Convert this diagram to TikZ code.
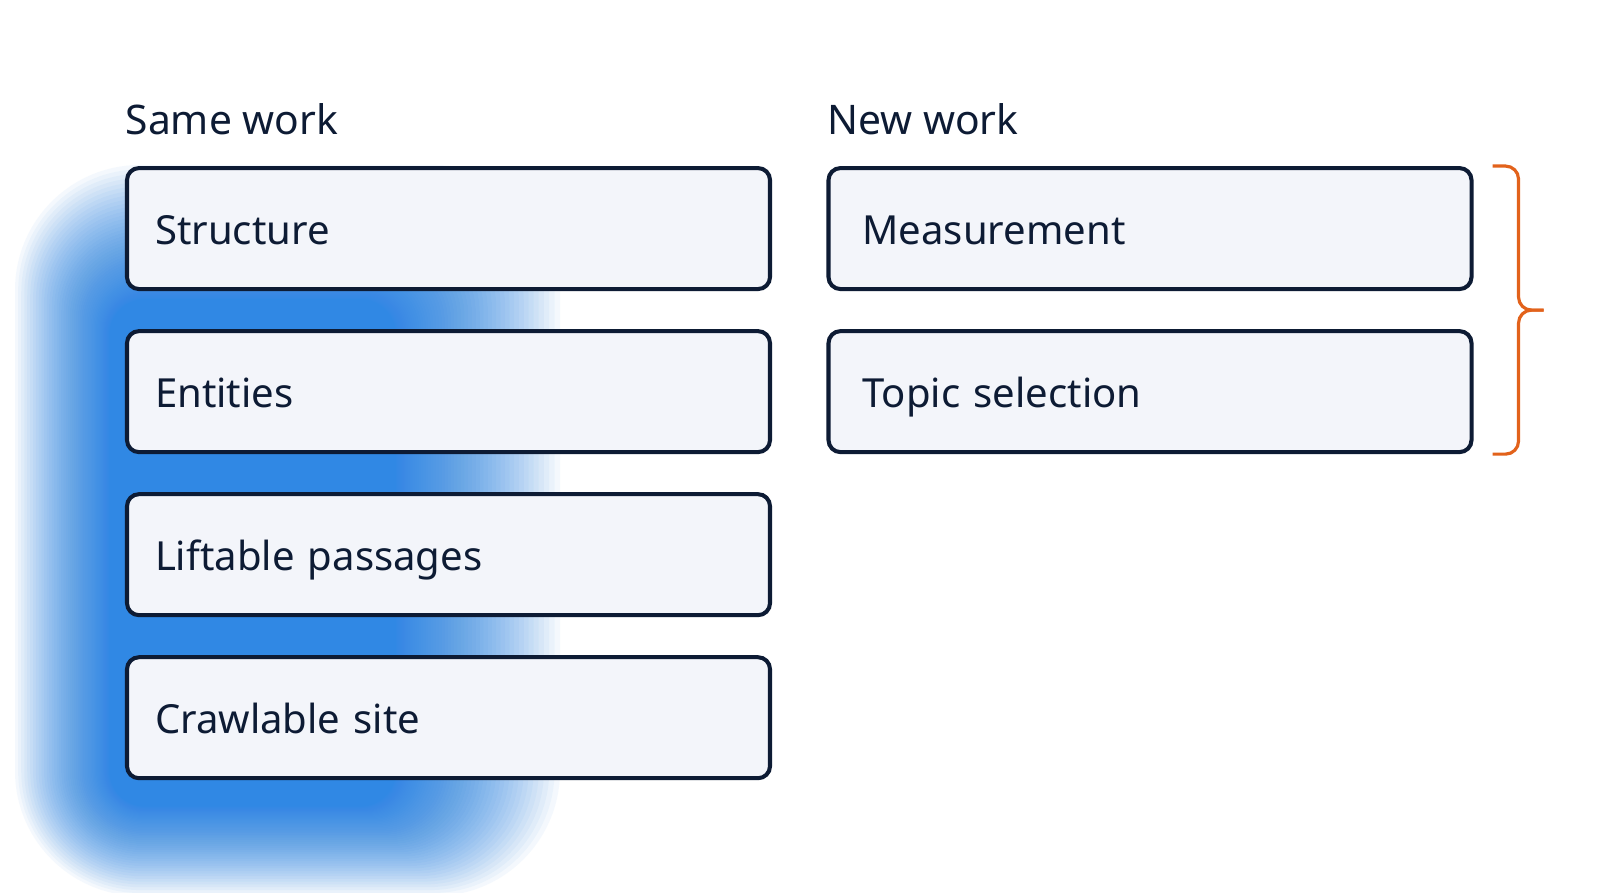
\documentclass[tikz,border=0pt]{standalone}
\usepackage{fontspec}
\setmainfont{Noto Sans}
\usetikzlibrary{positioning,calc}
\definecolor{ink}{RGB}{13,27,52}
\definecolor{boxfill}{RGB}{243,245,250}
\definecolor{glowblue}{RGB}{48,136,228}
\definecolor{braceorange}{RGB}{226,98,27}

\begin{document}
\begin{tikzpicture}[
  item/.style={draw=ink,line width=1.15pt,fill=boxfill,rounded corners=0.12cm,
    minimum width=6.43cm,minimum height=1.21cm,text width=5.87cm,inner xsep=0.28cm,
    text height=0.32cm,text depth=0cm,align=left,text=ink,font=\fontsize{11.4}{14}\selectfont},
  itemright/.style={item,text width=5.75cm,inner xsep=0.34cm},
  head/.style={text=ink,inner sep=0pt,font=\fontsize{11.6}{14}\selectfont},
  node distance=0.38cm]
\useasboundingbox (0,0) rectangle (16,8.93);
\fill[white] (0,0) rectangle (16,8.93);

% soft blue glow behind the left column
\foreach \i in {0,...,60}{
  \pgfmathsetmacro{\t}{(\i/60)^2}
  \pgfmathsetmacro{\r}{0.35+0.9*\t}
  \fill[glowblue,opacity=0.05,rounded corners=\r cm]
    ({1.10-0.95*\t},{0.87-0.9*\t}) rectangle ({3.95+1.65*\t},{5.93+1.35*\t});
}

\node[item] (struct) at (4.485,6.644) {Structure};
\node[item,below=of struct] (entities) {Entities};
\node[item,below=of entities] (liftable) {Liftable passages};
\node[item,below=of liftable] (crawlable) {Crawlable site};

\node[itemright] (measure) at (11.50,6.644) {Measurement};
\node[itemright,below=of measure] (topic) {Topic selection};

\node[head,anchor=base west] (same) at ([yshift=0.32cm]struct.north west) {Same work};
\node[head,anchor=base west] (new) at ([yshift=0.32cm]measure.north west) {New work};

% bracket on the right
\coordinate (btop) at ([xshift=0.19cm]measure.north east);
\coordinate (bbot) at ([xshift=0.19cm]topic.south east);
\coordinate (btip) at ($($(btop)!0.5!(bbot)$)+(0.51,0)$);
\draw[braceorange,line width=0.9pt,rounded corners=0.13cm] (btop) -- ++(0.26,0) |- (btip);
\draw[braceorange,line width=0.9pt,rounded corners=0.13cm] (bbot) -- ++(0.26,0) |- (btip);
\end{tikzpicture}
\end{document}
